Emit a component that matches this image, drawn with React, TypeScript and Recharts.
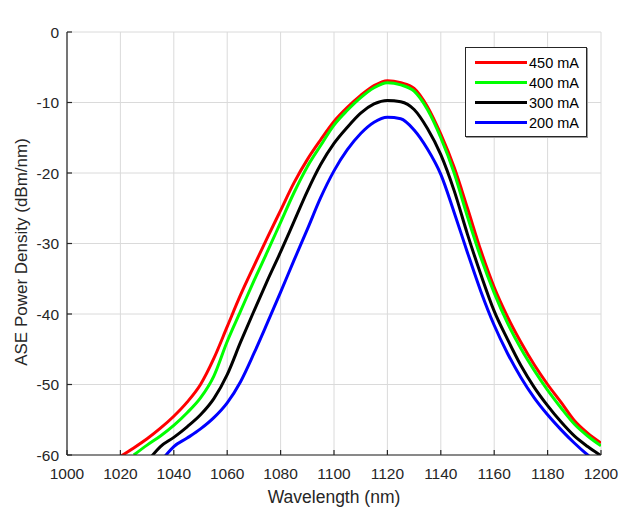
import { LineChart, Line, XAxis, YAxis, CartesianGrid, Legend } from 'recharts';

const FONT = '"Liberation Sans", Arial, sans-serif';
const AXIS = '#262626';

const wavelength = [
  1020, 1025, 1030, 1035, 1040, 1045, 1050, 1055, 1060, 1065, 1070, 1075, 1080,
  1085, 1090, 1095, 1100, 1105, 1110, 1115, 1120, 1125, 1130, 1135, 1140, 1145,
  1150, 1155, 1160, 1165, 1170, 1175, 1180, 1185, 1190, 1195, 1200,
];

// ASE power density (dBm/nm) per pump current
const ma450 = [
  -60.2, -59.0, -57.7, -56.2, -54.5, -52.5, -50.0, -46.3, -41.8, -37.3, -33.2, -29.2, -25.3,
  -21.4, -18.1, -15.3, -12.7, -10.7, -9.0, -7.6, -6.9, -7.2, -8.0, -10.6, -14.5, -19.2,
  -25.0, -31.0, -36.2, -40.4, -44.0, -47.2, -50.0, -52.5, -55.1, -56.9, -58.3,
];
const ma400 = [
  null, -60.0, -58.6, -57.3, -55.8, -54.0, -51.9, -48.8, -43.9, -39.6, -35.3, -31.2, -27.0,
  -22.8, -19.1, -16.1, -13.2, -11.1, -9.3, -7.9, -7.2, -7.5, -8.4, -11.0, -15.0, -20.0,
  -26.2, -32.0, -37.0, -41.3, -44.9, -48.0, -50.8, -53.3, -55.6, -57.3, -58.7,
];
const ma300 = [
  null, null, -61.0, -58.8, -57.5, -56.0, -54.3, -52.0, -48.6, -44.0, -39.6, -35.3, -31.2,
  -26.9, -22.6, -18.8, -15.8, -13.5, -11.5, -10.2, -9.7, -9.9, -11.0, -13.7, -17.4, -22.5,
  -28.7, -34.4, -39.6, -43.6, -47.3, -50.4, -53.0, -55.3, -57.3, -58.8, -60.1,
];
const ma200 = [
  null, null, null, -61.0, -58.8, -57.6, -56.3, -54.7, -52.6, -49.6, -45.6, -41.3, -36.9,
  -32.4, -28.0, -23.5, -19.7, -16.7, -14.4, -12.8, -12.1, -12.3, -13.9, -16.6, -20.2, -25.6,
  -31.3, -36.8, -41.6, -45.6, -49.0, -51.9, -54.3, -56.4, -58.3, -60.0, -61.5,
];

const xTicks = [1000, 1020, 1040, 1060, 1080, 1100, 1120, 1140, 1160, 1180, 1200];
const yTicks = [-60, -50, -40, -30, -20, -10, 0];

const series = [
  { key: 'ma450', name: '450 mA', color: '#ff0000' },
  { key: 'ma400', name: '400 mA', color: '#00ff00' },
  { key: 'ma300', name: '300 mA', color: '#000000' },
  { key: 'ma200', name: '200 mA', color: '#0000ff' },
];

const data = wavelength.map((wl, i) => ({
  wl,
  ma450: ma450[i],
  ma400: ma400[i],
  ma300: ma300[i],
  ma200: ma200[i],
}));

const BottomTick = (props: any) => {
  const { x, y, payload } = props;
  return (
    <g>
      <line x1={x} y1={y} x2={x} y2={y - 5} stroke={AXIS} strokeWidth={1.2} />
      <text x={x} y={y + 24} textAnchor="middle" fontSize={15.5} fill={AXIS} fontFamily={FONT}>
        {payload.value}
      </text>
    </g>
  );
};

const TopTick = (props: any) => {
  const { x, y } = props;
  return <line x1={x} y1={y} x2={x} y2={y + 5} stroke={AXIS} strokeWidth={1.2} />;
};

const LeftTick = (props: any) => {
  const { x, y, payload } = props;
  return (
    <g>
      <line x1={x} y1={y} x2={x + 5} y2={y} stroke={AXIS} strokeWidth={1.2} />
      <text x={x - 8} y={y + 5.5} textAnchor="end" fontSize={15.5} fill={AXIS} fontFamily={FONT}>
        {payload.value}
      </text>
    </g>
  );
};

const RightTick = (props: any) => {
  const { x, y } = props;
  return <line x1={x} y1={y} x2={x - 5} y2={y} stroke={AXIS} strokeWidth={1.2} />;
};

const order = series.map((s) => s.name);

const renderLegend = (props: any) => {
  const items = [...(props.payload || [])].sort(
    (a: any, b: any) => order.indexOf(a.value) - order.indexOf(b.value),
  );
  return (
    <div
      style={{
        width: 122,
        height: 90,
        boxSizing: 'border-box',
        border: '1px solid #262626',
        boxShadow: '1px 1px 0 #9a9a9a',
        background: '#fff',
        position: 'relative',
        fontFamily: FONT,
      }}
    >
      {items.map((p: any, i: number) => (
        <div
          key={p.value}
          style={{ position: 'absolute', left: 9, top: 7.5 + i * 20, height: 14, display: 'flex', alignItems: 'center' }}
        >
          <div style={{ width: 52, height: 3.5, background: p.color }} />
          <span style={{ marginLeft: 2, fontSize: 14.5, color: '#000', lineHeight: '14px' }}>{p.value}</span>
        </div>
      ))}
    </div>
  );
};

export default function App() {
  return (
    <div style={{ position: 'absolute', left: 0, top: 0, width: 621, height: 507, background: '#fff' }}>
      <LineChart
        width={621}
        height={507}
        data={data}
        margin={{ top: 32, right: 20, bottom: 0, left: 0 }}
        style={{ fontFamily: FONT }}
      >
        <CartesianGrid stroke="#dadada" strokeWidth={1} />
        <XAxis
          dataKey="wl"
          type="number"
          domain={[1000, 1200]}
          ticks={xTicks}
          interval={0}
          allowDataOverflow
          height={52}
          tickSize={0}
          tickMargin={0}
          tickLine={false}
          tick={BottomTick}
          axisLine={{ stroke: AXIS, strokeWidth: 1.2 }}
          label={{
            value: 'Wavelength (nm)',
            content: () => (
              <text x={334} y={503} textAnchor="middle" fontSize={17.5} fill={AXIS} fontFamily={FONT}>
                Wavelength (nm)
              </text>
            ),
          }}
        />
        <XAxis
          xAxisId="top"
          orientation="top"
          dataKey="wl"
          type="number"
          domain={[1000, 1200]}
          ticks={xTicks}
          interval={0}
          allowDataOverflow
          height={0}
          tickSize={0}
          tickMargin={0}
          tickLine={false}
          tick={TopTick}
          axisLine={{ stroke: AXIS, strokeWidth: 1.2 }}
          label={{
            value: 'ASE SPECTRA',
            content: () => (
              <text x={334} y={24} textAnchor="middle" fontSize={18} fontWeight="bold" fill="#000" fontFamily={FONT}>
                ASE SPECTRA
              </text>
            ),
          }}
        />
        <YAxis
          type="number"
          domain={[-60, 0]}
          ticks={yTicks}
          interval={0}
          allowDataOverflow
          width={67}
          tickSize={0}
          tickMargin={0}
          tickLine={false}
          tick={LeftTick}
          axisLine={{ stroke: AXIS, strokeWidth: 1.2 }}
          label={{
            value: 'ASE Power Density (dBm/nm)',
            content: () => (
              <text
                x={27}
                y={252}
                transform="rotate(-90 27 252)"
                textAnchor="middle"
                fontSize={17}
                fill={AXIS}
                fontFamily={FONT}
              >
                ASE Power Density (dBm/nm)
              </text>
            ),
          }}
        />
        <YAxis
          yAxisId="right"
          orientation="right"
          type="number"
          domain={[-60, 0]}
          ticks={yTicks}
          interval={0}
          allowDataOverflow
          width={0}
          tickSize={0}
          tickMargin={0}
          tickLine={false}
          tick={RightTick}
          axisLine={{ stroke: AXIS, strokeWidth: 1.2 }}
        />
        <Legend
          layout="vertical"
          align="center"
          verticalAlign="middle"
          content={renderLegend}
          wrapperStyle={{ left: 465, top: 47, width: 122, height: 90 }}
        />
        {series.map((s) => (
          <Line
            key={s.key}
            type="monotone"
            dataKey={s.key}
            name={s.name}
            stroke={s.color}
            strokeWidth={3}
            dot={false}
            activeDot={false}
            isAnimationActive={false}
          />
        ))}
      </LineChart>
    </div>
  );
}
